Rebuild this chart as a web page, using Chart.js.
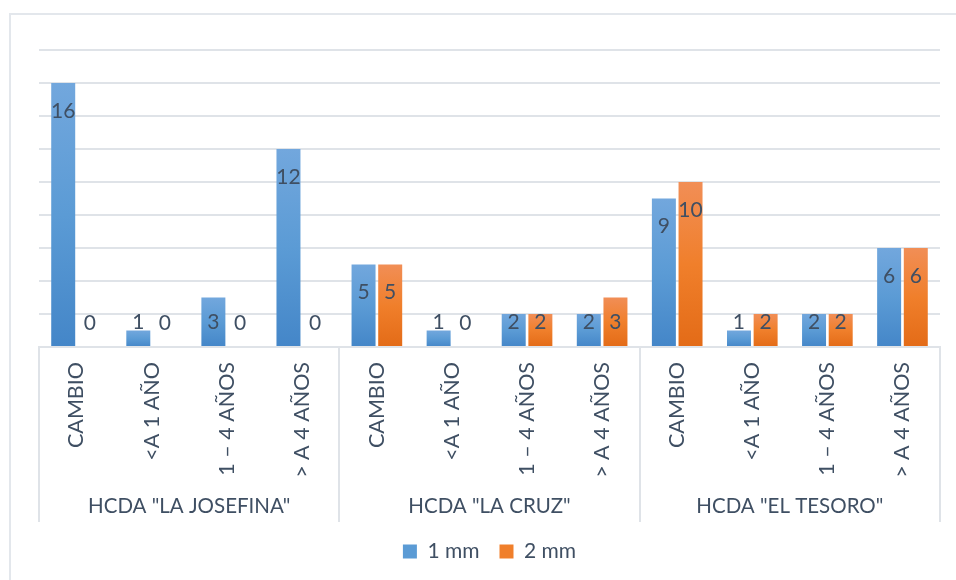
<!DOCTYPE html>
<html>
<head>
<meta charset="utf-8">
<script src="https://cdn.jsdelivr.net/npm/chart.js@4.4.1/dist/chart.umd.min.js"></script>
<style>
  html, body { margin: 0; padding: 0; background: #fff; }
  #frame { position: absolute; left: 9px; top: 13px; width: 1000px; height: 600px;
           border-left: 2px solid #e3e7ec; border-top: 2px solid #e3e7ec; }
  #wrap { position: absolute; left: 0; top: 0; width: 956px; height: 580px; }
</style>
</head>
<body>
<div id="frame"></div>
<div id="wrap"><canvas id="chart"></canvas></div>
<script>
// categories and groups
const categories = [
  "CAMBIO", "<A 1 AÑO", "1 – 4 AÑOS", "> A 4 AÑOS",
  "CAMBIO", "<A 1 AÑO", "1 – 4 AÑOS", "> A 4 AÑOS",
  "CAMBIO", "<A 1 AÑO", "1 – 4 AÑOS", "> A 4 AÑOS"
];
const groups = ['HCDA "LA JOSEFINA"', 'HCDA "LA CRUZ"', 'HCDA "EL TESORO"'];

// series
const oneMm = [16, 1, 3, 12, 5, 1, 2, 2, 9, 1, 2, 6];
const twoMm = [0, 0, 0, 0, 5, 0, 2, 3, 10, 2, 2, 6];

const textColor = "#3f4f63";
const lineColor = "#dfe3e8";
const fontFamily = "Lato, 'Open Sans', sans-serif";

const blueStops = ["#72a7dd", "#5b9bd5", "#4486c8"];
const orangeStops = ["#f18e56", "#f07f2b", "#e36b17"];

function barGradient(context, stops) {
  const chart = context.chart;
  const { ctx, chartArea, scales } = chart;
  if (!chartArea || context.type !== "data") return stops[1];
  const top = scales.y.getPixelForValue(context.raw);
  const base = scales.y.getPixelForValue(0);
  if (base - top < 1) return stops[1];
  const g = ctx.createLinearGradient(0, top, 0, base);
  g.addColorStop(0, stops[0]);
  g.addColorStop(0.5, stops[1]);
  g.addColorStop(1, stops[2]);
  return g;
}

// value labels, inside end of each bar
const valueLabels = {
  id: "valueLabels",
  afterDatasetsDraw(chart) {
    const ctx = chart.ctx;
    ctx.save();
    ctx.font = "21px " + fontFamily;
    ctx.fillStyle = textColor;
    ctx.textAlign = "center";
    ctx.textBaseline = "middle";
    chart.data.datasets.forEach((ds, di) => {
      chart.getDatasetMeta(di).data.forEach((bar, i) => {
        const y = Math.min(bar.y + 28, bar.base - 24);
        ctx.fillText(String(ds.data[i]), bar.x, y);
      });
    });
    ctx.restore();
  }
};

// group separators and group names under the category labels
const groupAxis = {
  id: "groupAxis",
  afterDraw(chart) {
    const ctx = chart.ctx;
    const x = chart.scales.x;
    const base = chart.scales.y.getPixelForValue(0);
    const per = categories.length / groups.length;
    const edge = i => {
      if (i <= 0) return chart.chartArea.left;
      if (i >= categories.length) return chart.chartArea.right;
      return (x.getPixelForValue(i - 1) + x.getPixelForValue(i)) / 2;
    };
    ctx.save();
    ctx.strokeStyle = lineColor;
    ctx.lineWidth = 2;
    for (let g = 0; g <= groups.length; g++) {
      const px = Math.round(edge(g * per));
      ctx.beginPath();
      ctx.moveTo(px, base);
      ctx.lineTo(px, base + 175);
      ctx.stroke();
    }
    ctx.font = "20.5px " + fontFamily;
    ctx.fillStyle = textColor;
    ctx.textAlign = "center";
    ctx.textBaseline = "middle";
    groups.forEach((name, g) => {
      const cx = (edge(g * per) + edge((g + 1) * per)) / 2;
      ctx.fillText(name, cx, base + 159);
    });
    ctx.restore();
  }
};

new Chart(document.getElementById("chart").getContext("2d"), {
  type: "bar",
  data: {
    labels: categories,
    datasets: [
      {
        label: "1 mm",
        data: oneMm,
        backgroundColor: c => barGradient(c, blueStops),
        categoryPercentage: 0.71,
        barPercentage: 0.9
      },
      {
        label: "2 mm",
        data: twoMm,
        backgroundColor: c => barGradient(c, orangeStops),
        categoryPercentage: 0.71,
        barPercentage: 0.9
      }
    ]
  },
  options: {
    responsive: true,
    maintainAspectRatio: false,
    animation: false,
    layout: { padding: { top: 50, left: 39, right: 16, bottom: 8 } },
    plugins: {
      legend: {
        position: "bottom",
        labels: {
          color: textColor,
          font: { family: fontFamily, size: 21 },
          boxWidth: 14,
          boxHeight: 14,
          padding: 20,
          generateLabels(chart) {
            return chart.data.datasets.map((ds, i) => ({
              text: ds.label,
              fillStyle: i === 0 ? blueStops[1] : orangeStops[1],
              strokeStyle: "transparent",
              lineWidth: 0,
              fontColor: textColor,
              datasetIndex: i
            }));
          }
        }
      },
      tooltip: { enabled: false }
    },
    scales: {
      x: {
        grid: { display: false },
        border: { display: true, color: lineColor, width: 2 },
        ticks: {
          color: textColor,
          font: { family: fontFamily, size: 21.5 },
          minRotation: 90,
          maxRotation: 90,
          autoSkip: false,
          padding: 7
        },
        afterFit(scale) { scale.height = 174; }
      },
      y: {
        min: 0,
        max: 18,
        ticks: { display: false, stepSize: 2 },
        grid: { color: lineColor, lineWidth: 2, drawTicks: false },
        border: { display: false },
        afterFit(scale) { scale.width = 0; }
      }
    }
  },
  plugins: [valueLabels, groupAxis]
});
</script>
</body>
</html>
